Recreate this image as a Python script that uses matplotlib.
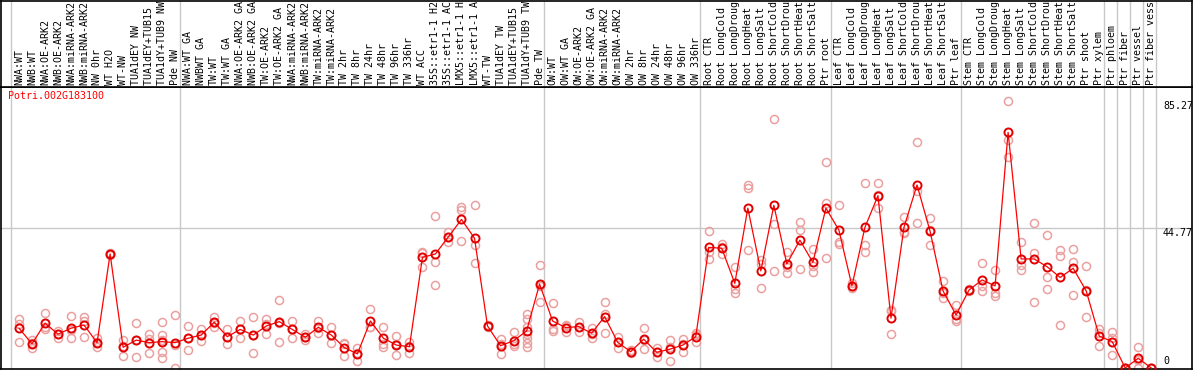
import matplotlib
matplotlib.use("Agg")
import matplotlib.pyplot as plt
import matplotlib.transforms as mtransforms

gene = "Potri.002G183100"

labels = [
    "NWA:WT", "NWB:WT", "NWA:OE-ARK2", "NWB:OE-ARK2", "NWA:miRNA-ARK2", "NWB:miRNA-ARK2",
    "NW 0hr", "WT H2O", "WT-NW", "TUA1dEY NW", "TUA1dEY+TUB15 NW", "TUA1dY+TUB9 NW", "Pde NW",
    "NWA:WT GA", "NWBWT GA", "TW:WT", "TW:WT GA", "NWA:OE-ARK2 GA", "NWB:OE-ARK2 GA",
    "TW:OE-ARK2", "TW:OE-ARK2 GA", "NWA:miRNA-ARK2", "NWB:miRNA-ARK2", "TW:miRNA-ARK2",
    "TW:miRNA-ARK2", "TW 2hr", "TW 8hr", "TW 24hr", "TW 48hr", "TW 96hr", "TW 336hr",
    "WT ACC", "35S::etr1-1 H2O", "35S::etr1-1 ACC", "LMX5::etr1-1 H2O", "LMX5::etr1-1 ACC",
    "WT-TW", "TUA1dEY TW", "TUA1dEY+TUB15 TW", "TUA1dY+TUB9 TW", "Pde TW",
    "OW:WT", "OW:WT GA", "OW:OE-ARK2", "OW:OE-ARK2 GA", "OW:miRNA-ARK2", "OW:miRNA-ARK2",
    "OW 2hr", "OW 8hr", "OW 24hr", "OW 48hr", "OW 96hr", "OW 336hr",
    "Root CTR", "Root LongCold", "Root LongDrought", "Root LongHeat", "Root LongSalt",
    "Root ShortCold", "Root ShortDrought", "Root ShortHeat", "Root ShortSalt", "Ptr root",
    "Leaf CTR", "Leaf LongCold", "Leaf LongDrought", "Leaf LongHeat", "Leaf LongSalt",
    "Leaf ShortCold", "Leaf ShortDrought", "Leaf ShortHeat", "Leaf ShortSalt", "Ptr leaf",
    "Stem CTR", "Stem LongCold", "Stem LongDrought", "Stem LongHeat", "Stem LongSalt",
    "Stem ShortCold", "Stem ShortDrought", "Stem ShortHeat", "Stem ShortSalt", "Ptr shoot",
    "Ptr xylem", "Ptr phloem", "Ptr fiber", "Ptr vessel", "Ptr fiber vessel",
]

means = [
    12.7, 7.7, 14.3, 10.8, 12.7, 13.7, 8.1, 36.4, 6.6, 8.9, 8.1, 8.4, 8.1,
    9.5, 10.5, 14.6, 10.0, 12.3, 10.5, 13.4, 14.8, 12.3, 9.8, 13.0, 10.5, 6.5, 4.5,
    15.0, 9.5, 7.3, 6.8, 35.3, 36.4, 41.9, 47.4, 41.4, 13.4, 7.1, 8.7, 11.8, 26.8,
    15.0, 12.9, 13.2, 11.1, 16.4, 8.2, 5.2, 9.2, 5.0, 6.0, 7.3, 10.0,
    38.5, 38.2, 27.0, 51.0, 31.0, 51.9, 33.2, 40.8, 33.7, 51.0,
    44.0, 26.2, 44.9, 55.0, 15.9, 44.9, 58.4, 43.7, 24.6, 16.9,
    24.9, 28.1, 26.2, 75.2, 34.8, 34.8, 32.3, 28.9, 31.8, 24.6, 10.2,
    8.4, 0.0, 3.1, 0.0,
]

reps = [
    [15.5, 14.0, 8.4], [8.9, 7.9, 6.3], [17.4, 13.2, 12.3], [11.8, 10.8, 9.7],
    [16.6, 12.0, 9.5], [16.4, 15.1, 9.8], [9.5, 8.3, 6.6], [36.8, 36.4, 35.9],
    [8.9, 7.0, 3.9], [14.3, 8.9, 3.4], [10.8, 9.2, 4.7], [14.6, 10.5, 8.8, 5.2, 3.1],
    [16.9, 7.4, 0.0],
    [13.4, 9.5, 5.6], [12.3, 10.5, 8.7], [16.2, 14.4, 13.2], [12.4, 10.0, 7.6],
    [15.0, 12.3, 9.5], [16.2, 10.5, 4.7], [15.5, 13.9, 10.8], [21.7, 14.5, 8.2],
    [15.0, 12.3, 9.5], [10.7, 9.8, 8.9], [15.1, 12.8, 11.1], [13.2, 10.4, 7.9],
    [7.6, 8.0, 3.9], [6.5, 4.7, 2.3], [18.8, 13.2, 13.0], [13.2, 7.7, 6.8],
    [10.2, 7.6, 4.1], [8.4, 7.1, 4.9], [37.1, 36.7, 32.1], [48.5, 33.7, 26.4],
    [43.5, 41.9, 40.3], [51.5, 50.4, 40.5], [52.0, 39.2, 33.4], [13.7, 13.4, 13.0],
    [9.3, 7.5, 4.5], [11.4, 7.6, 7.1], [17.1, 15.5, 13.0, 11.0, 9.5, 8.1, 6.8],
    [32.9, 26.3, 21.2],
    [20.6, 12.5, 11.9], [13.8, 13.3, 11.6], [14.8, 13.2, 11.6], [12.7, 11.0, 9.7],
    [21.0, 17.1, 11.1], [10.0, 8.3, 6.3], [5.6, 5.2, 4.8], [12.7, 8.8, 6.1],
    [6.3, 5.1, 3.6], [8.9, 6.8, 2.3], [9.2, 7.5, 5.2], [11.1, 10.5, 8.4],
    [43.7, 37.1, 34.7], [39.6, 38.6, 36.4], [32.1, 25.1, 23.8], [58.4, 57.3, 37.7],
    [34.5, 33.1, 25.4], [79.4, 45.9, 30.9], [36.9, 32.3, 30.4], [46.5, 44.0, 31.5],
    [37.9, 32.6, 30.5], [65.6, 52.8, 35.0],
    [51.9, 40.3, 39.6], [27.0, 26.2, 25.4], [58.9, 39.2, 36.9], [58.9, 55.1, 51.0],
    [18.5, 18.3, 10.8], [48.3, 43.5, 43.0], [72.0, 56.6, 46.2], [48.0, 43.9, 39.2],
    [27.8, 23.8, 22.2], [20.1, 15.6, 15.1],
    [25.3, 24.9, 24.5], [33.4, 26.3, 24.6], [31.3, 23.8, 23.1], [85.27, 72.8, 67.4],
    [40.3, 32.8, 31.3], [46.2, 36.6, 21.1], [42.4, 28.9, 25.1], [37.7, 35.8, 13.6],
    [37.9, 33.7, 23.3], [32.5, 24.9, 16.4], [12.3, 11.2, 7.1],
    [11.4, 9.6, 4.1], [0.0, 0.0, 0.0], [6.7, 2.6, 0.0], [0.0, 0.0, 0.0],
]

group_starts = [0, 13, 41, 53, 63, 73, 84, 85, 86, 87, 88]
y_ticks = [85.27, 44.77, 0]

W, H = 1194, 370
fig = plt.figure(figsize=(W / 100, H / 100), dpi=100)
ax = fig.add_axes([1 / W, 1 / H, 1191 / W, 282 / H])
head = fig.add_axes([1 / W, 283 / H, 1191 / W, 86.5 / H])

xlim = (-1.383, 90.13)
for a in (ax, head):
    a.set_xlim(*xlim)
    a.set_xticks([])
    a.set_yticks([])
    for s in a.spines.values():
        s.set_color("black")
        s.set_linewidth(1.2)
    for b in group_starts:
        a.axvline(b - 0.64, color="#c8c8c8", lw=1, zorder=0)
ax.set_ylim(-0.32, 89.66)
head.set_ylim(0, 1)
ax.axhline(y_ticks[1], color="#c8c8c8", lw=1, zorder=0)

mono = "DejaVu Sans Mono"
fs = 7.2

# replicates
for i, r in enumerate(reps):
    ax.plot([i] * len(r), r, "o", ms=5.8, mfc="none", mec="#eba0a0", mew=1.1,
            zorder=2, clip_on=True)

x = list(range(len(means)))
ax.plot(x, means, "-", color="#ff0000", lw=0.9, zorder=3)
ax.plot(x, means, "o", ms=5.8, mfc="none", mec="#e00000", mew=1.4, zorder=4)

# column labels in the header
for i, lab in enumerate(labels):
    head.text(i, 0.023, lab[:14], rotation=90, ha="center", va="bottom",
              family=mono, fontsize=fs, clip_on=True)

ax.text(7 / 1191, 1 - 4 / 282, gene, transform=ax.transAxes, color="red",
        family=mono, fontsize=fs, va="top", ha="left")

tr = mtransforms.blended_transform_factory(ax.transAxes, ax.transData)
for v in y_ticks:
    va = "bottom" if v == 0 else "top"
    ax.text(1162 / 1191, v + (0.6 if v == 0 else 0), f"{v:g}", transform=tr,
            family=mono, fontsize=fs, ha="left", va=va)

fig.savefig("out.png", dpi=100)
